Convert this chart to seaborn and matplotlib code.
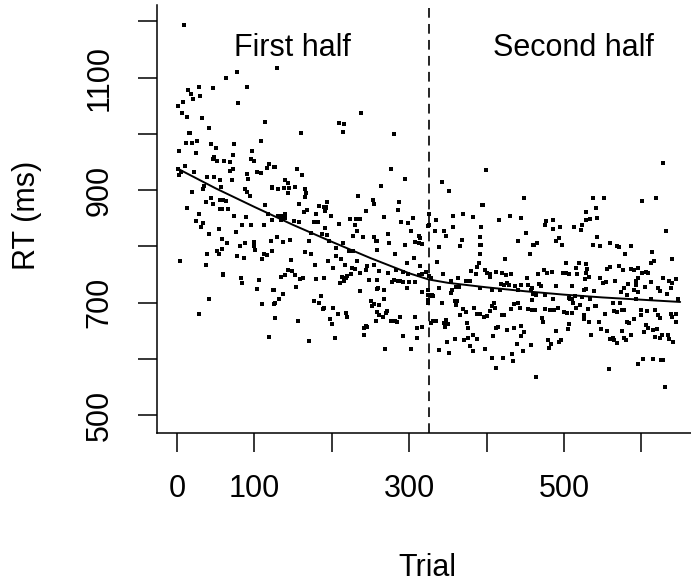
import matplotlib
matplotlib.use("Agg")
import numpy as np
import pandas as pd
import seaborn as sns
import matplotlib.pyplot as plt

# ========================
# Datos (trial, RT en ms)
# ========================
trial = [
    9, 29, 47, 14, 18, 30, 8, 21, 1, 7, 13, 32, 42, 16, 17, 12, 19, 26, 44, 51,
    3, 25, 48, 46, 52, 11, 1, 5, 22, 2, 39, 48, 55, 35, 57, 34, 19, 44, 38, 47,
    13, 56, 28, 24, 34, 31, 54, 41, 58, 52, 54, 39, 4, 37, 59, 41, 28,
    63, 78, 90, 79, 114, 108, 74, 97, 61, 68, 72, 95, 100, 119, 125, 116, 68, 72, 91,
    103, 108, 71, 92, 56, 123, 88, 90, 94, 56, 60, 63, 58, 66, 114, 118, 74, 89, 84,
    96, 112, 76, 58, 64, 122, 88, 99, 100, 82, 77, 101, 113, 116, 86, 110, 83, 84, 106,
    60, 104, 125, 110, 125, 126, 119,
    129, 160, 126, 155, 162, 139, 138, 123, 131, 144, 145, 153, 143, 166, 167, 165, 157,
    168, 164, 184, 192, 180, 191, 130, 135, 139, 140, 123, 134, 151, 158, 177, 182, 191,
    187, 146, 137, 129, 173, 170, 123, 165, 173, 147, 178, 144, 149, 153, 163, 159, 140,
    134, 180, 190, 154, 124, 137, 132, 127, 177, 183, 188, 186, 127, 156, 171,
    238, 209, 216, 214, 234, 194, 190, 253, 254, 244, 193, 199, 224, 231, 237, 209, 230,
    232, 194, 197, 259, 228, 240, 254, 214, 222, 227, 206, 205, 212, 195, 202, 232, 230,
    226, 217, 246, 244, 255, 220, 213, 218, 225, 236, 248, 259, 260, 211, 216, 237, 251,
    255, 252, 190, 202, 208, 218, 220, 198, 200, 258, 257, 244, 242, 246, 241, 204,
    280, 276, 295, 263, 287, 285, 267, 289, 299, 305, 302, 272, 257, 259, 312, 314, 308,
    312, 317, 274, 294, 281, 306, 297, 314, 261, 273, 283, 292, 299, 312, 317, 322, 325,
    278, 280, 285, 288, 292, 300, 307, 258, 268, 267, 297, 317, 324, 261, 266, 261, 271,
    270, 277, 281, 284, 288, 308, 317, 310, 292, 310, 269, 302, 324, 325,
    342, 352, 394, 326, 335, 356, 369, 383, 324, 333, 345, 348, 357, 338, 368, 366, 392,
    393, 391, 336, 390, 388, 380, 343, 386, 328, 354, 363, 373, 375, 379, 339, 355, 361,
    364, 354, 324, 330, 331, 329, 342, 324, 359, 362, 361, 370, 373, 384, 387, 392, 366,
    331, 334, 328, 345, 348, 350, 346, 375, 376, 382, 376, 371, 359, 387, 349, 379, 382,
    338, 351,
    399, 448, 395, 430, 416, 445, 393, 451, 441, 392, 460, 392, 456, 424, 398, 401, 405,
    412, 420, 425, 432, 452, 404, 418, 423, 426, 429, 437, 445, 392, 407, 417, 441, 453,
    457, 460, 409, 440, 435, 407, 411, 404, 400, 396, 420, 423, 432, 443, 453, 459, 415,
    412, 426, 435, 444, 448, 445, 408, 439, 457, 398, 447, 433, 407, 421, 434, 412,
    477, 528, 475, 486, 486, 495, 523, 513, 522, 461, 465, 493, 489, 498, 503, 519, 474,
    485, 478, 484, 499, 503, 516, 507, 517, 528, 466, 468, 470, 490, 459, 510, 529, 464,
    475, 514, 526, 486, 507, 508, 510, 523, 459, 520, 512, 462, 476, 482, 487, 492, 500,
    504, 510, 515, 526, 526, 472, 473, 506, 505, 490, 496, 494, 479, 483, 480, 464,
    537, 552, 541, 528, 534, 543, 543, 538, 547, 559, 568, 571, 587, 579, 528, 530, 556,
    560, 571, 576, 586, 590, 595, 527, 532, 546, 550, 554, 566, 583, 593, 590, 526, 539,
    577, 573, 581, 533, 541, 540, 531, 563, 572, 575, 578, 565, 569, 526, 532, 545, 553,
    590, 581, 584, 535, 548, 555, 575, 559, 563, 565, 569, 577, 580, 587, 595, 558,
    628, 601, 619, 632, 614, 616, 612, 640, 601, 606, 609, 596, 593, 612, 628, 644, 640,
    635, 605, 621, 638, 596, 624, 633, 593, 612, 647, 599, 607, 618, 621, 638, 640, 645,
    624, 644, 599, 606, 608, 603, 615, 620, 617, 627, 624, 634, 636, 641, 602, 595, 615,
    625, 628, 631,
]
rt = [
    1194, 1084, 1082, 1078, 1071, 1068, 1056, 1061, 1049, 1037, 1030, 1028, 1010, 1002, 1001, 983, 983, 988, 982, 975,
    970, 966, 959, 956, 951, 942, 937, 932, 932, 926, 924, 924, 918, 908, 905, 901, 896, 886, 878, 876,
    868, 866, 858, 845, 842, 834, 831, 822, 795, 791, 786, 786, 773, 767, 749, 707, 679,
    1100, 1109, 1083, 1054, 1021, 987, 981, 970, 952, 950, 962, 956, 951, 946, 941, 940, 934, 937, 928,
    932, 930, 918, 920, 918, 905, 901, 897, 890, 883, 882, 880, 866, 866, 873, 857, 854, 852, 837,
    838, 838, 826, 813, 806, 810, 805, 808, 801, 800, 782, 793, 787, 784, 780, 778, 744, 735, 740,
    751, 724, 722, 698, 698, 672, 638,
    1117, 1002, 941, 938, 927, 917, 903, 904, 901, 912, 903, 906, 894, 901, 894, 888, 875,
    865, 861, 872, 869, 858, 862, 853, 854, 857, 851, 846, 847, 845, 844, 844, 843, 832,
    821, 812, 808, 817, 823, 810, 791, 790, 787, 775, 767, 758, 756, 749, 744, 741, 749,
    746, 742, 743, 728, 722, 716, 706, 700, 703, 700, 688, 711, 672, 668, 632,
    1037, 1019, 1017, 1004, 890, 878, 870, 883, 875, 862, 868, 853, 848, 848, 848, 839, 838,
    828, 820, 810, 810, 819, 817, 817, 806, 791, 792, 797, 783, 777, 774, 762, 773, 759,
    762, 767, 765, 757, 767, 748, 745, 744, 750, 753, 740, 740, 725, 734, 738, 721, 703,
    697, 693, 690, 691, 680, 681, 675, 671, 661, 683, 668, 658, 655, 657, 642, 637,
    999, 937, 920, 908, 879, 865, 852, 843, 841, 851, 827, 821, 810, 793, 819, 814, 807,
    806, 804, 805, 803, 787, 779, 770, 765, 756, 753, 758, 754, 751, 749, 751, 755, 747,
    737, 740, 739, 739, 737, 736, 737, 724, 723, 706, 725, 719, 723, 695, 675, 678, 685,
    681, 668, 668, 665, 675, 674, 657, 655, 641, 637, 617, 618, 704, 837,
    915, 899, 874, 857, 847, 853, 857, 852, 836, 827, 828, 819, 835, 798, 812, 800, 817,
    803, 787, 772, 770, 763, 756, 751, 751, 743, 739, 743, 739, 739, 739, 725, 723, 728,
    728, 717, 714, 714, 712, 711, 699, 700, 703, 703, 695, 688, 684, 691, 680, 679, 678,
    668, 667, 663, 663, 669, 662, 656, 663, 654, 642, 637, 633, 636, 635, 629, 623, 614,
    616, 611,
    936, 885, 873, 853, 847, 850, 834, 824, 810, 803, 802, 787, 786, 777, 757, 752, 750,
    754, 753, 749, 751, 743, 745, 733, 732, 735, 731, 730, 732, 725, 722, 722, 722, 732,
    722, 716, 700, 700, 698, 694, 691, 685, 676, 675, 678, 678, 689, 690, 688, 686, 657,
    654, 652, 655, 658, 648, 641, 640, 627, 624, 618, 613, 608, 601, 601, 596, 583,
    845, 846, 838, 830, 846, 834, 838, 835, 829, 802, 805, 814, 809, 802, 771, 771, 758,
    754, 752, 754, 752, 753, 761, 750, 751, 752, 751, 733, 730, 730, 725, 729, 724, 713,
    713, 711, 723, 707, 708, 707, 706, 710, 704, 695, 700, 687, 688, 687, 687, 690, 684,
    682, 682, 690, 678, 671, 672, 666, 662, 653, 649, 634, 630, 633, 627, 620, 568,
    886, 885, 868, 861, 848, 850, 816, 802, 801, 805, 801, 799, 801, 787, 769, 760, 760,
    763, 765, 758, 760, 757, 761, 741, 745, 743, 735, 737, 738, 733, 731, 722, 722, 720,
    725, 719, 714, 706, 693, 694, 688, 700, 700, 687, 686, 685, 684, 673, 666, 666, 679,
    670, 665, 663, 643, 653, 650, 650, 636, 637, 633, 628, 637, 633, 642, 591, 582,
    948, 880, 885, 827, 790, 774, 771, 778, 752, 754, 752, 744, 739, 737, 743, 742, 734,
    738, 727, 726, 726, 718, 720, 716, 706, 706, 706, 686, 685, 686, 678, 679, 675, 680,
    672, 665, 678, 660, 654, 648, 651, 653, 638, 642, 637, 642, 636, 630, 599, 591, 599,
    597, 597, 550,
]

# curva suavizada
curve_trial = [1, 50, 100, 150, 200, 250, 300, 325, 350, 400, 450, 500, 550, 600, 650]
curve_rt = [938, 903, 870, 838, 808, 779, 752, 741, 735, 727, 720, 714, 709, 705, 701]

split_trial = 325
half_labels = ["First half", "Second half"]
half_label_x = [149, 512]
half_label_y = 1152

xticks = [0, 100, 200, 300, 400, 500, 600]
xticklabels = ["0", "100", "", "300", "", "500", ""]
yticks = [500, 600, 700, 800, 900, 1000, 1100, 1200]
yticklabels = ["500", "", "700", "", "900", "", "1100", ""]

df = pd.DataFrame({"trial": trial, "rt": rt})
curve = pd.DataFrame({"trial": curve_trial, "rt": curve_rt})

sns.set_style("ticks")
plt.rcParams["font.family"] = ["Liberation Sans", "DejaVu Sans"]
plt.rcParams["text.color"] = "black"
plt.rcParams["xtick.labelcolor"] = "black"
plt.rcParams["ytick.labelcolor"] = "black"
plt.rcParams["axes.labelcolor"] = "black"
plt.rcParams["lines.scale_dashes"] = False

fig = plt.figure(figsize=(6.91, 5.87), dpi=100)
ax = fig.add_axes([157 / 691, 1 - 433 / 587, 1 - 157 / 691, 428 / 587])

sns.scatterplot(data=df, x="trial", y="rt", ax=ax, marker="s", s=6,
                color="black", linewidth=0, legend=False)
sns.lineplot(data=curve, x="trial", y="rt", ax=ax, color="black", linewidth=1.4)
ax.axvline(split_trial, color="black", linewidth=1.2, linestyle=(0, (7, 4.5)))

fs = 22
for lab, xx in zip(half_labels, half_label_x):
    ax.text(xx, half_label_y, lab, ha="center", va="center", fontsize=fs, color="black")

ax.set_xlim(-25.8, 664)
ax.set_ylim(468, 1229)
ax.set_xticks(xticks)
ax.set_xticklabels(xticklabels)
ax.set_yticks(yticks)
ax.set_yticklabels(yticklabels, rotation=90, va="center")
ax.tick_params(axis="both", labelsize=fs, length=13.5, width=1.1, color="black",
               labelcolor="black")
ax.tick_params(axis="x", pad=16)
ax.tick_params(axis="y", pad=17)

sns.despine(ax=ax)
for sp in ["left", "bottom"]:
    ax.spines[sp].set_linewidth(1.1)
    ax.spines[sp].set_color("black")

ax.set_xlabel("Trial", fontsize=fs, color="black")
ax.set_ylabel("RT (ms)", fontsize=fs, color="black")
ax.xaxis.set_label_coords((427 - 157) / 534, (433 - 568) / 428)
ax.xaxis.label.set_va("center")
ax.yaxis.set_label_coords((27 - 157) / 534, (433 - 215) / 428)
ax.yaxis.label.set_va("center")

fig.savefig("out.png", dpi=100)
